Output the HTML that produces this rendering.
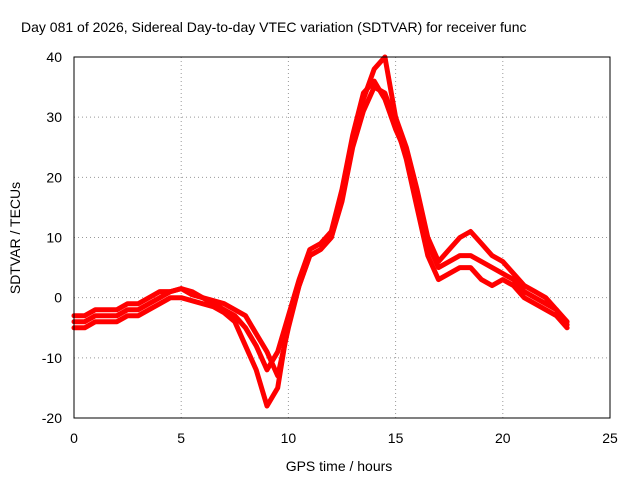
<!DOCTYPE html>
<html><head><meta charset="utf-8"><style>
body{margin:0;background:#fff;}
svg{display:block;font-family:"Liberation Sans",sans-serif;}
</style></head><body>
<svg id="chart" width="640" height="480" viewBox="0 0 640 480">
<text x="21" y="32" font-size="14" fill="#000">Day 081 of 2026, Sidereal Day-to-day VTEC variation (SDTVAR) for receiver func</text>
<g id="grid"></g>
<g id="axes"></g>
<g id="series"></g>
<rect x="74" y="57" width="536" height="361" fill="none" stroke="#000" stroke-width="1"/>
<text x="339" y="471" font-size="14" text-anchor="middle">GPS time / hours</text>
<text transform="translate(20,238) rotate(-90)" font-size="14" text-anchor="middle">SDTVAR / TECUs</text>
</svg>
<script>
const xTicks=[0,5,10,15,20,25];
const yTicks=[-20,-10,0,10,20,30,40];
const hours=[0,0.5,1,1.5,2,2.5,3,3.5,4,4.5,5,5.5,6,6.5,7,7.5,8,8.5,9,9.5,10,10.5,11,11.5,12,12.5,13,13.5,14,14.5,15,15.5,16,16.5,17,17.5,18,18.5,19,19.5,20,20.5,21,21.5,22,22.5,23];
const series1=[-4,-4,-3,-3,-3,-2,-2,-1,0,1,1.5,1,0,-1,-2,-3,-5,-8,-12,-9,-3,3,8,9,11,18,27,34,36,33,28,24,17,9,5,6,7,7,6,5,4,3,1,0,-1,-2,-4];
const series2=[-3,-3,-2,-2,-2,-1,-1,0,1,1,1.5,0.5,0,-0.5,-1,-2,-3,-6,-9,-13,-5,2,7,8,10,17,26,33,38,40,30,25,18,10,6,8,10,11,9,7,6,4,2,1,0,-2,-4.5];
const series3=[-5,-5,-4,-4,-4,-3,-3,-2,-1,0,0,-0.5,-1,-1.5,-2.5,-4,-8,-12,-18,-15,-4,2,7,8,10,16,25,31,35,34,29,23,15,7,3,4,5,5,3,2,3,2,0,-1,-2,-3,-5];
const X=v=>74+v*(536/25);
const Y=v=>418-(v+20)*(361/60);
const NS="http://www.w3.org/2000/svg";
const grid=document.getElementById('grid'),axes=document.getElementById('axes'),ser=document.getElementById('series');
function mk(tag,attrs,parent){const e=document.createElementNS(NS,tag);for(const k in attrs)e.setAttribute(k,attrs[k]);parent.appendChild(e);return e;}
xTicks.forEach(t=>{
  const l=mk('line',{x1:X(t),x2:X(t),y1:57,y2:418,stroke:'#999','stroke-dasharray':'1,3'},grid);
  
  
  const tx=mk('text',{x:X(t),y:443,'font-size':14,'text-anchor':'middle'},axes);tx.textContent=t;
  
  
});
yTicks.forEach(t=>{
  const l=mk('line',{x1:74,x2:610,y1:Y(t),y2:Y(t),stroke:'#999','stroke-dasharray':'1,3'},grid);
  
  
  const tx=mk('text',{x:62,y:Y(t)+5,'font-size':14,'text-anchor':'end'},axes);tx.textContent=t;
  
  
});
[series1,series2,series3].forEach((s,i)=>{
  const pts=hours.map((h,j)=>X(h).toFixed(1)+','+Y(s[j]).toFixed(1)).join(' ');
  const p=mk('polyline',{points:pts,fill:'none',stroke:'#f00','stroke-width':5,'stroke-linejoin':'round','stroke-linecap':'round'},ser);
  
  
});
</script>
</body></html>
